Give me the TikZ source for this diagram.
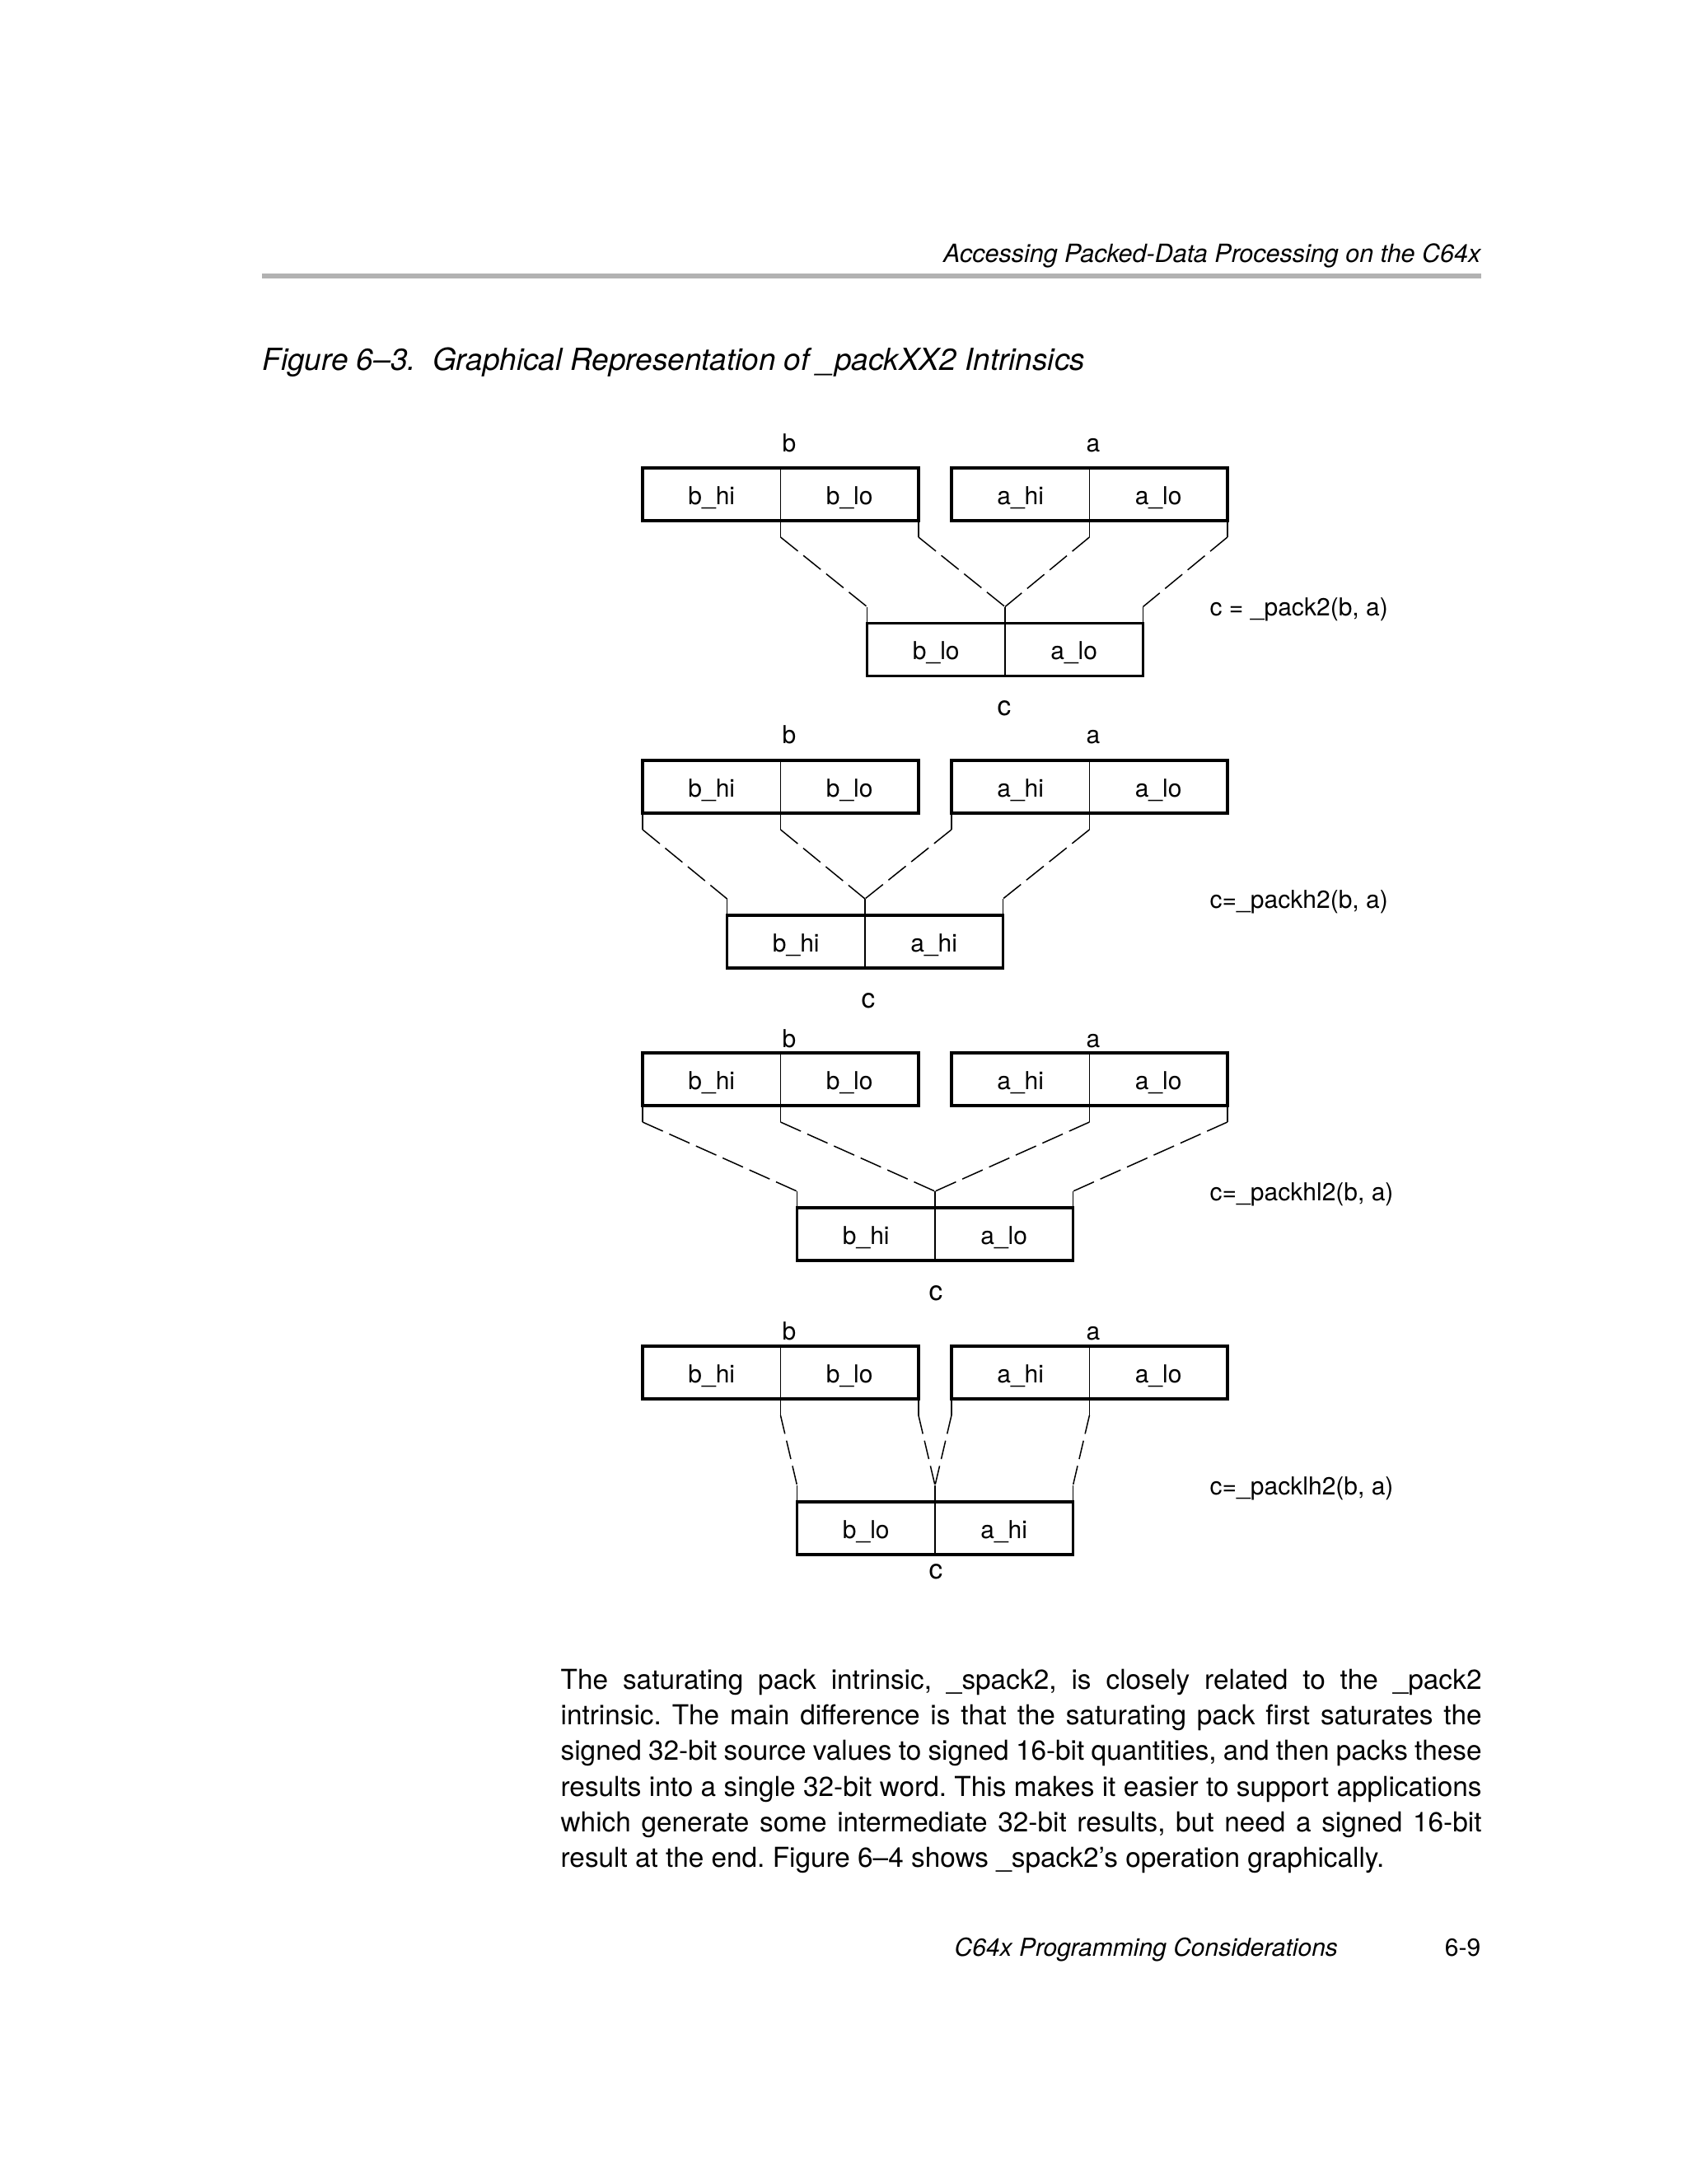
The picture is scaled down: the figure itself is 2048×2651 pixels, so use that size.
\documentclass[tikz,border=0pt]{standalone}
\usepackage{fontspec}
\setmainfont{TeX Gyre Heros}
\usetikzlibrary{positioning}
\definecolor{rulegray}{gray}{0.7}

\begin{document}
\begin{tikzpicture}[x=0.0041494in,y=-0.0041494in,
                half/.style={draw,line width=0.4pt,minimum width=50.23pt,minimum height=19.19pt,
                             inner sep=0pt,outer sep=0pt,text height=7.2pt,text depth=0pt,
                             font=\fontsize{9}{10.8}\selectfont},
                word/.style={line width=1.05pt},
                tag/.style={inner sep=0pt,anchor=base,font=\fontsize{9}{10.8}\selectfont},
                ctag/.style={inner sep=0pt,anchor=base,font=\fontsize{10}{12}\selectfont},
                op/.style={inner sep=0pt,anchor=base west,font=\fontsize{9}{10.8}\selectfont},
                page text/.style={inner sep=0pt,font=\fontsize{10}{13}\selectfont\frenchspacing},
                link/.style={line width=0.45pt,dash pattern=on 8.1pt off 2.55pt,to path={-- (\tikztotarget)}},
                wire/.style={draw,line width=0.45pt,
                             to path={-- ++(0,20) coordinate (w1) (\tikztotarget) -- ++(0,-20) coordinate (w2)
                                      (w1) edge[link] (w2)}}]
                \path[use as bounding box,fill=white] (0,0) rectangle (2048,2651);

                % running head and caption
                \node[page text,anchor=base east,font=\fontsize{9.15}{11}\selectfont\itshape] (head) at (1798,318)
                     {Accessing Packed-Data Processing on the C64x};
                \draw[rulegray,line width=1.8pt] (318,335) -- (1798,335);
                \node[page text,anchor=base west,font=\fontsize{11.07}{13}\selectfont\itshape] (caption) at (318,449)
                     {Figure 6--3.\hspace{6.1pt}Graphical Representation of \_packXX2 Intrinsics};

                % _pack2
                \node[half] (bhi1) at (863.75,600) {b\_hi};
                \node[half] (blo1) [right=0pt of bhi1] {b\_lo};
                \node[half] (ahi1) [right=12pt of blo1] {a\_hi};
                \node[half] (alo1) [right=0pt of ahi1] {a\_lo};
                \node[half] (cl1) at (1136.25,788.5) {b\_lo};
                \node[half] (cr1) [right=0pt of cl1] {a\_lo};
                \draw[word] (bhi1.north west) rectangle (blo1.south east)
                            (ahi1.north west) rectangle (alo1.south east)
                            (cl1.north west) rectangle (cr1.south east);
                \node[tag] (b1) at (958,548) {b};
                \node[tag] (a1) at (1327,548) {a};
                \node[ctag] (c1) at (1219,868) {c};
                \node[op] (f1) at (1468,747) {c = \_pack2(b, a)};
                \draw[wire] (blo1.south west) to (cl1.north west);
                \draw[wire] (blo1.south east) to (cl1.north east);
                \draw[wire] (ahi1.south east) to (cl1.north east);
                \draw[wire] (alo1.south east) to (cr1.north east);

                % _packh2
                \node[half] (bhi2) at (863.75,955) {b\_hi};
                \node[half] (blo2) [right=0pt of bhi2] {b\_lo};
                \node[half] (ahi2) [right=12pt of blo2] {a\_hi};
                \node[half] (alo2) [right=0pt of ahi2] {a\_lo};
                \node[half] (cl2) at (966.25,1143) {b\_hi};
                \node[half] (cr2) [right=0pt of cl2] {a\_hi};
                \draw[word] (bhi2.north west) rectangle (blo2.south east)
                            (ahi2.north west) rectangle (alo2.south east)
                            (cl2.north west) rectangle (cr2.south east);
                \node[tag] (b2) at (958,902) {b};
                \node[tag] (a2) at (1327,902) {a};
                \node[ctag] (c2) at (1054,1223) {c};
                \node[op] (f2) at (1468,1102) {c=\_packh2(b, a)};
                \draw[wire] (bhi2.south west) to (cl2.north west);
                \draw[wire] (blo2.south west) to (cl2.north east);
                \draw[wire] (ahi2.south west) to (cl2.north east);
                \draw[wire] (ahi2.south east) to (cr2.north east);

                % _packhl2
                \node[half] (bhi3) at (863.75,1310) {b\_hi};
                \node[half] (blo3) [right=0pt of bhi3] {b\_lo};
                \node[half] (ahi3) [right=12pt of blo3] {a\_hi};
                \node[half] (alo3) [right=0pt of ahi3] {a\_lo};
                \node[half] (cl3) at (1051.25,1498) {b\_hi};
                \node[half] (cr3) [right=0pt of cl3] {a\_lo};
                \draw[word] (bhi3.north west) rectangle (blo3.south east)
                            (ahi3.north west) rectangle (alo3.south east)
                            (cl3.north west) rectangle (cr3.south east);
                \node[tag] (b3) at (958,1271) {b};
                \node[tag] (a3) at (1327,1271) {a};
                \node[ctag] (c3) at (1136,1578) {c};
                \node[op] (f3) at (1468,1457) {c=\_packhl2(b, a)};
                \draw[wire] (bhi3.south west) to (cl3.north west);
                \draw[wire] (blo3.south west) to (cl3.north east);
                \draw[wire] (ahi3.south east) to (cl3.north east);
                \draw[wire] (alo3.south east) to (cr3.north east);

                % _packlh2
                \node[half] (bhi4) at (863.75,1666) {b\_hi};
                \node[half] (blo4) [right=0pt of bhi4] {b\_lo};
                \node[half] (ahi4) [right=12pt of blo4] {a\_hi};
                \node[half] (alo4) [right=0pt of ahi4] {a\_lo};
                \node[half] (cl4) at (1051.25,1855) {b\_lo};
                \node[half] (cr4) [right=0pt of cl4] {a\_hi};
                \draw[word] (bhi4.north west) rectangle (blo4.south east)
                            (ahi4.north west) rectangle (alo4.south east)
                            (cl4.north west) rectangle (cr4.south east);
                \node[tag] (b4) at (958,1626) {b};
                \node[tag] (a4) at (1327,1626) {a};
                \node[ctag] (c4) at (1136,1916) {c};
                \node[op] (f4) at (1468,1814) {c=\_packlh2(b, a)};
                \begin{scope}[link/.append style={dash pattern=on 6.9pt off 2.55pt}]
                \draw[wire] (blo4.south west) to (cl4.north west);
                \draw[wire] (blo4.south east) to (cl4.north east);
                \draw[wire] (ahi4.south west) to (cl4.north east);
                \draw[wire] (ahi4.south east) to (cr4.north east);
                \end{scope}

                % body text and foot
                \node[page text,anchor=base west] (line1) at (680,2050)
                     {\makebox[335.3pt][s]{The saturating pack intrinsic, \_spack2, is closely related to the \_pack2}};
                \node[page text,anchor=base west] (line2) at (680,2093.4)
                     {\makebox[335.3pt][s]{intrinsic. The main difference is that the saturating pack first saturates the}};
                \node[page text,anchor=base west] (line3) at (680,2136.7)
                     {\makebox[335.3pt][s]{signed 32-bit source values to signed 16-bit quantities, and then packs these}};
                \node[page text,anchor=base west] (line4) at (680,2180.1)
                     {\makebox[335.3pt][s]{results into a single 32-bit word. This makes it easier to support applications}};
                \node[page text,anchor=base west] (line5) at (680,2223.4)
                     {\makebox[335.3pt][s]{which generate some intermediate 32-bit results, but need a signed 16-bit}};
                \node[page text,anchor=base west] (line6) at (680,2266.8)
                     {result at the end. Figure 6--4 shows \_spack2's operation graphically.};
                \node[page text,anchor=base west,font=\fontsize{9}{10.8}\selectfont\itshape] (foot) at (1158,2374)
                     {C64x Programming Considerations};
                \node[page text,anchor=base east,font=\fontsize{9}{10.8}\selectfont] (pageno) at (1798,2374) {6-9};
\end{tikzpicture}
\end{document}
